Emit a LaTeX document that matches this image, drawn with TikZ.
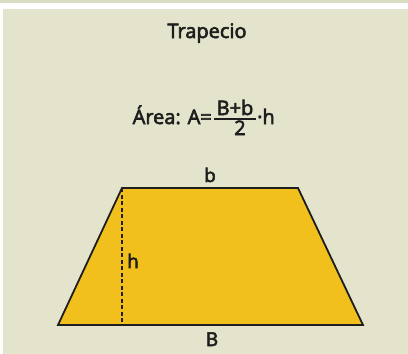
\documentclass[tikz,border=0pt]{standalone}
\usepackage{fontspec}
\setmainfont{Open Sans}
\newfontfamily\medfont{Open Sans}[FakeBold=3]
\definecolor{bgc}{HTML}{E3E4CB}
\definecolor{bandc}{HTML}{D9DDC2}
\definecolor{yel}{HTML}{F1C01C}
\definecolor{ink}{HTML}{1E1E1E}
\tikzset{
  lbl/.style={text=ink, inner sep=0pt, font=\medfont\fontsize{19}{22}\selectfont},
  flbl/.style={text=ink, inner sep=0pt, font=\medfont\fontsize{20}{24}\selectfont},
  edge/.style={draw=ink, line width=1.8pt, line join=miter},
  hline/.style={draw=ink, line width=1.8pt, dash pattern=on 4pt off 2.5pt}
}
\begin{document}
\begin{tikzpicture}[x=1pt,y=-1pt]
\useasboundingbox (0,0) rectangle (408,354);
\fill[bgc] (0,0) rectangle (408,354);
\fill[bandc] (0,0) rectangle (408,3);
\fill[white] (0,3) rectangle (408,8.5);
\fill[white] (0,8.5) rectangle (3,354);
% title
\node[flbl, anchor=base] (title) at (207,38) {Trapecio};
% formula
\node[flbl, anchor=base east] (area) at (212,124) {Área: A=};
\node[flbl, anchor=base] (num) at (235,115) {B+b};
\coordinate (barL) at (214,119);
\coordinate (barR) at (256,119);
\draw[ink, line width=1.2pt] (barL) -- (barR);
\node[flbl, anchor=base] (den) at (240,135) {2};
\node[flbl, anchor=base west] (dh) at (257,124) {·h};
% trapezoid
\coordinate (BL) at (58,325);
\coordinate (BR) at (363,325);
\coordinate (TR) at (298,188);
\coordinate (TL) at (122,188);
\coordinate (HB) at (122,325);
\fill[yel] (BL) -- (BR) -- (TR) -- (TL) -- cycle;
\draw[hline] (TL) -- (HB);
\draw[edge] (BL) -- (BR) -- (TR) -- (TL) -- cycle;
\node[lbl, anchor=base] (b) at (210,182) {b};
\node[lbl, anchor=base] (B) at (212,346) {B};
\node[lbl, anchor=base] (h) at (133,268) {h};
\end{tikzpicture}
\end{document}
